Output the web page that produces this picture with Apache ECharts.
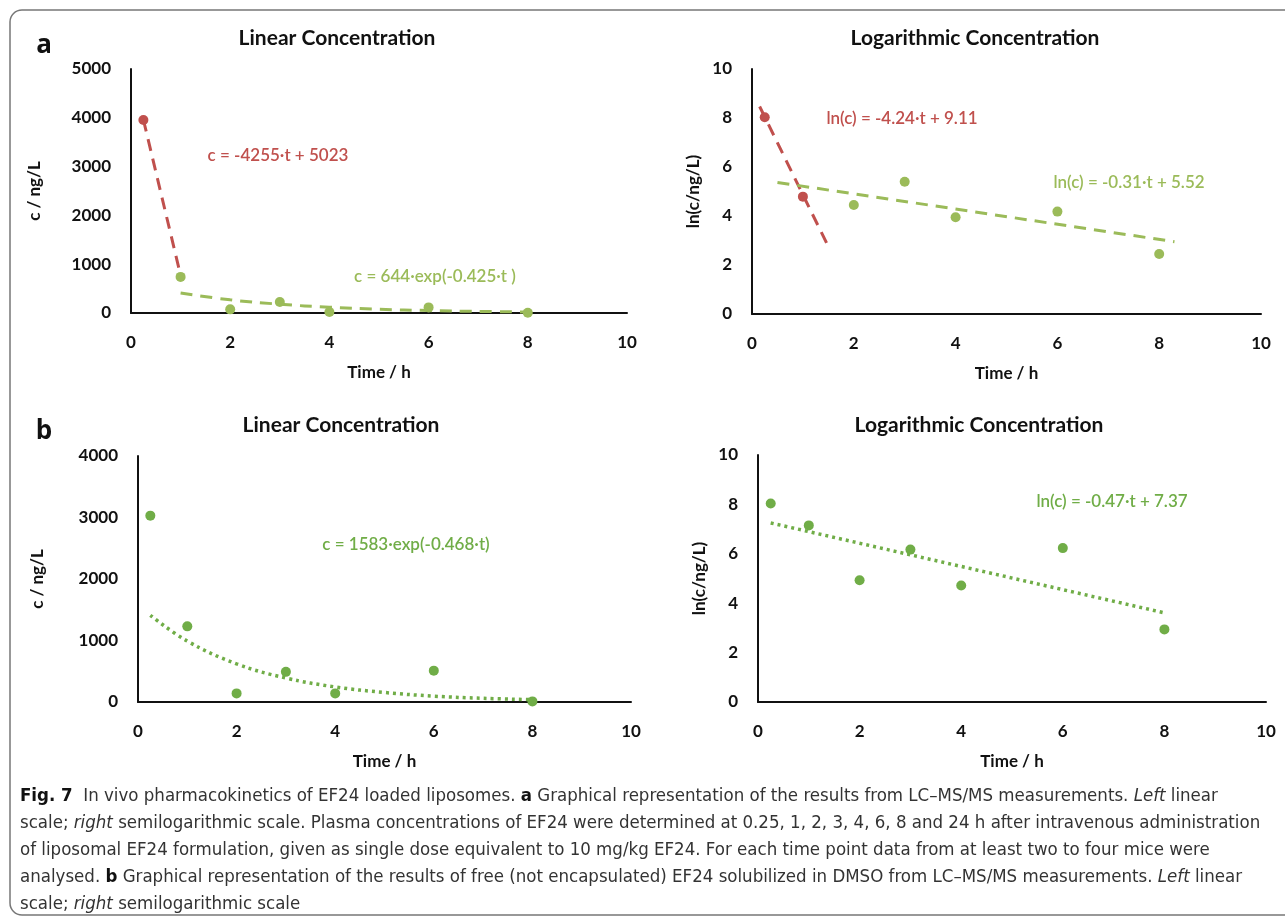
<!DOCTYPE html>
<html><head><meta charset="utf-8">
<script src="https://cdn.jsdelivr.net/npm/echarts@6/dist/echarts.min.js"></script>
<style>html,body{margin:0;padding:0;background:#fff}#c{width:1285px;height:921px}</style>
</head><body><div id="c"></div>
<script>
// ---------- data ----------
const xTicks = [0, 2, 4, 6, 8, 10];
// Panel a: liposomal EF24
const aLinRedT = [0.25];            const aLinRedC = [3955];
const aLinGreenT = [1, 2, 3, 4, 6, 8]; const aLinGreenC = [740, 75, 225, 20, 115, 5];
const aLinRedFitT = [0.25, 1.0];    const aLinRedFitC = [3960, 770];
const aLinGreenFitT = [1, 2, 3, 4, 5, 6, 7, 8];
const aLinGreenFitC = [410, 270, 180, 118, 77, 50, 33, 21];
const aLogRedT = [0.25, 1];         const aLogRedY = [8.03, 4.79];
const aLogGreenT = [2, 3, 4, 6, 8]; const aLogGreenY = [4.45, 5.4, 3.95, 4.18, 2.45];
const aLogRedFitT = [0.15, 1.5];    const aLogRedFitY = [8.47, 2.75];
const aLogGreenFitT = [0.5, 8.3];   const aLogGreenFitY = [5.37, 2.95];
// Panel b: free EF24 in DMSO
const bT = [0.25, 1, 2, 3, 4, 6, 8];
const bLinC = [3030, 1230, 140, 490, 140, 510, 10];
const bLogY = [8.04, 7.15, 4.93, 6.17, 4.72, 6.23, 2.94];
const bLinFitT = [0.25, 1, 2, 3, 4, 5, 6, 7, 8];
const bLinFitC = [1410, 990, 620, 390, 245, 155, 95, 60, 38];
const bLogFitT = [0.25, 8];         const bLogFitY = [7.25, 3.61];

const titles = ['Linear Concentration', 'Logarithmic Concentration'];
const eqs = ['c = -4255·t + 5023', 'c = 644·exp(-0.425·t )', 'ln(c) = -4.24·t + 9.11',
             'ln(c) = -0.31·t + 5.52', 'c = 1583·exp(-0.468·t)', 'ln(c) = -0.47·t + 7.37'];

// ---------- styling ----------
const RED = '#c0504d', GREEN = '#9bbb59', GREEN_B = '#70ad47';
const FONT = 'Lato, "Open Sans", sans-serif';
const CAPF = '"Liberation Sans Narrow", "DejaVu Sans Condensed", sans-serif';
const CAPS = 18.5;
const zip = (a, b) => a.map((v, i) => [v, b[i]]);

const grids = [
  {left: 131, top: 69, width: 496, height: 244},
  {left: 752, top: 69, width: 509, height: 245},
  {left: 138, top: 456, width: 493, height: 246},
  {left: 758, top: 455, width: 508, height: 247}
];
const yMax = [5000, 10, 4000, 10];
const yInt = [1000, 2, 1000, 2];
const yNames = ['c / ng/L', 'ln(c/ng/L)', 'c / ng/L', 'ln(c/ng/L)'];
const yGap = [88, 50, 92, 50];

const axisLabel = {color: '#111', fontFamily: FONT, fontWeight: 'bold', fontSize: 17,
                   formatter: v => String(v)};
const xAxis = grids.map((g, i) => ({
  type: 'value', gridIndex: i, min: 0, max: 10, interval: 2,
  axisLine: {show: true, lineStyle: {color: '#111', width: 2}},
  axisTick: {show: false}, splitLine: {show: false},
  axisLabel: Object.assign({margin: 21}, axisLabel),
  name: 'Time / h', nameLocation: 'middle', nameGap: 51,
  nameTextStyle: {color: '#111', fontFamily: FONT, fontWeight: 'bold', fontSize: 17}
}));
const yAxis = grids.map((g, i) => ({
  type: 'value', gridIndex: i, min: 0, max: yMax[i], interval: yInt[i],
  axisLine: {show: true, lineStyle: {color: '#111', width: 2}},
  axisTick: {show: false}, splitLine: {show: false},
  axisLabel: Object.assign({margin: 20}, axisLabel),
  name: yNames[i], nameLocation: 'middle', nameGap: yGap[i],
  nameTextStyle: {color: '#111', fontFamily: FONT, fontWeight: 'bold', fontSize: 17}
}));

function pts(i, t, v, color) {
  return {type: 'scatter', xAxisIndex: i, yAxisIndex: i, data: zip(t, v), symbolSize: 10,
          itemStyle: {color: color, opacity: 1}, z: 3, silent: true};
}
function fit(i, t, v, color, dash, width, smooth) {
  return {type: 'line', xAxisIndex: i, yAxisIndex: i, data: zip(t, v), showSymbol: false,
          smooth: smooth ? 0.4 : false, lineStyle: {color: color, width: width, type: dash, cap: 'butt'},
          z: 2, silent: true};
}
const DASH = [12, 8], DOT = [3, 4];
const series = [
  fit(0, aLinRedFitT, aLinRedFitC, RED, DASH, 3),
  fit(0, aLinGreenFitT, aLinGreenFitC, GREEN, DASH, 3, true),
  pts(0, aLinRedT, aLinRedC, RED),
  pts(0, aLinGreenT, aLinGreenC, GREEN),
  fit(1, aLogRedFitT, aLogRedFitY, RED, DASH, 3),
  fit(1, aLogGreenFitT, aLogGreenFitY, GREEN, DASH, 3),
  pts(1, aLogRedT, aLogRedY, RED),
  pts(1, aLogGreenT, aLogGreenY, GREEN),
  fit(2, bLinFitT, bLinFitC, GREEN_B, DOT, 3.5, true),
  pts(2, bT, bLinC, GREEN_B),
  fit(3, bLogFitT, bLogFitY, GREEN_B, DOT, 3.5),
  pts(3, bT, bLogY, GREEN_B)
];

function txt(s, x, y, size, color, weight, align, family) {
  return {type: 'text', silent: true, style: {text: s, x: x, y: y, fill: color || '#111',
    fontFamily: family || FONT, fontSize: size, fontWeight: weight || 'bold',
    textAlign: align || 'center', textVerticalAlign: 'middle'}};
}
const capRich = {
  b: {fontFamily: CAPF, fontSize: CAPS, fontWeight: 'bold', fill: '#111', color: '#111'},
  i: {fontFamily: CAPF, fontSize: CAPS, fontStyle: 'italic', fill: '#333', color: '#333'},
  n: {fontFamily: CAPF, fontSize: CAPS, fill: '#333', color: '#333'}
};
const capLines = [
  '{b|Fig. 7}{n|  In vivo pharmacokinetics of EF24 loaded liposomes. }{b|a}{n| Graphical representation of the results from LC–MS/MS measurements. }{i|Left}{n| linear}',
  '{n|scale; }{i|right}{n| semilogarithmic scale. Plasma concentrations of EF24 were determined at 0.25, 1, 2, 3, 4, 6, 8 and 24 h after intravenous administration}',
  '{n|of liposomal EF24 formulation, given as single dose equivalent to 10 mg/kg EF24. For each time point data from at least two to four mice were}',
  '{n|analysed. }{b|b}{n| Graphical representation of the results of free (not encapsulated) EF24 solubilized in DMSO from LC–MS/MS measurements. }{i|Left}{n| linear}',
  '{n|scale; }{i|right}{n| semilogarithmic scale}'
];
const capY = [796, 823, 850, 877, 904];

const graphic = [
  {type: 'rect', silent: true, z: -1, shape: {x: 10, y: 10, width: 1290, height: 905, r: 12},
   style: {fill: 'none', stroke: '#777', lineWidth: 1.5}},
  txt('a', 44, 46, 26, '#111', 'bold', 'center', '"Open Sans", sans-serif'),
  txt('b', 44, 432, 26, '#111', 'bold', 'center', '"Open Sans", sans-serif'),
  txt(titles[0], 337, 38, 21), txt(titles[1], 975, 38, 21),
  txt(titles[0], 341, 425, 21), txt(titles[1], 979, 425, 21),
  txt(eqs[0], 278, 156, 17, RED, '600'),
  txt(eqs[1], 435, 277, 17, GREEN, '600'),
  txt(eqs[2], 902, 119, 17, RED, '600'),
  txt(eqs[3], 1129, 183, 17, GREEN, '600'),
  txt(eqs[4], 406, 545, 17, GREEN_B, '600'),
  txt(eqs[5], 1112, 502, 17, GREEN_B, '600')
].concat(capLines.map((s, k) => ({type: 'text', silent: true,
  style: {text: s, x: 20, y: capY[k], textAlign: 'left', textVerticalAlign: 'middle', rich: capRich}})));

const chart = echarts.init(document.getElementById('c'), null, {renderer: 'canvas'});
chart.setOption({
  animation: false, backgroundColor: '#fff',
  grid: grids.map(g => Object.assign({containLabel: false}, g)),
  xAxis: xAxis, yAxis: yAxis, series: series, graphic: graphic
});
</script></body></html>
